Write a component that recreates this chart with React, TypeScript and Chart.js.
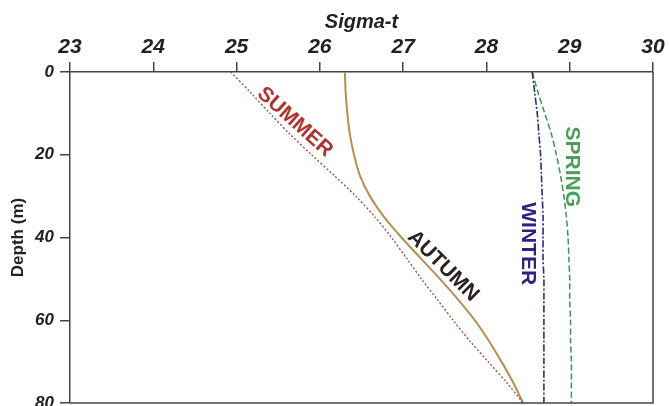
import React, { useEffect, useRef } from "react";
import { Chart, registerables } from "chart.js";

Chart.register(...registerables);

const depths = [0, 5, 10, 15, 20, 25, 30, 35, 40, 45, 50, 55, 60, 65, 70, 75, 80];
const summer = [24.93, 25.17, 25.4, 25.64, 25.9, 26.17, 26.43, 26.66, 26.86, 27.04, 27.22, 27.41, 27.6, 27.8, 28.02, 28.24, 28.44];
const autumn = [26.3, 26.31, 26.33, 26.36, 26.41, 26.48, 26.6, 26.77, 26.98, 27.21, 27.44, 27.66, 27.86, 28.03, 28.18, 28.32, 28.44];
const winter = [28.55, 28.58, 28.61, 28.63, 28.65, 28.66, 28.67, 28.68, 28.68, 28.68, 28.69, 28.69, 28.69, 28.69, 28.69, 28.69, 28.69];
const spring = [28.55, 28.62, 28.7, 28.78, 28.84, 28.89, 28.93, 28.96, 28.98, 28.99, 29.0, 29.0, 29.01, 29.01, 29.02, 29.02, 29.02];

const xTicks = [23, 24, 25, 26, 27, 28, 29, 30];
const yTicks = [0, 20, 40, 60, 80];

const labelTexts = ["SUMMER", "AUTUMN", "WINTER", "SPRING"];
const labelSigma = [25.7, 27.48, 28.5, 29.03];
const labelDepth = [12.1, 46.9, 41.5, 22.9];
const labelAngles = [42, 45, 90, 90];
const labelColors = ["#b3302f", "#2a2222", "#2e2284", "#47a058"];

const FONT = "'Liberation Sans', Arial, sans-serif";

const toPts = (xs: number[]) => xs.map((v, i) => ({ x: v, y: depths[i] }));

const boxPlugin = {
  id: "boxPlugin",
  afterDraw(chart: any) {
    const { ctx, chartArea } = chart;
    ctx.save();
    ctx.strokeStyle = "#444";
    ctx.lineWidth = 1.5;
    ctx.beginPath();
    ctx.moveTo(chartArea.right, chartArea.top);
    ctx.lineTo(chartArea.right, chartArea.bottom);
    ctx.lineTo(chartArea.left, chartArea.bottom);
    ctx.stroke();
    const xs = chart.scales.x;
    const ys = chart.scales.y;
    ctx.font = `bold 21px ${FONT}`;
    ctx.textAlign = "center";
    ctx.textBaseline = "middle";
    labelTexts.forEach((t, i) => {
      const px = xs.getPixelForValue(labelSigma[i]);
      const py = ys.getPixelForValue(labelDepth[i]);
      ctx.save();
      ctx.translate(px, py);
      ctx.rotate((labelAngles[i] * Math.PI) / 180);
      ctx.fillStyle = labelColors[i];
      ctx.fillText(t, 0, 0);
      ctx.restore();
    });
    ctx.restore();
  },
};

export default function App() {
  const ref = useRef<HTMLCanvasElement>(null);
  useEffect(() => {
    if (!ref.current) return;
    const chart = new Chart(ref.current, {
      type: "scatter",
      data: {
        datasets: [
          { label: "Summer", data: toPts(summer), borderColor: "#9a4a48", borderWidth: 1.3, borderDash: [2, 2], showLine: true, pointRadius: 0, tension: 0.3 },
          { label: "Autumn", data: toPts(autumn), borderColor: "#b8904c", borderWidth: 2, showLine: true, pointRadius: 0, tension: 0.3 },
          { label: "Winter", data: toPts(winter), borderColor: "#2e2a80", borderWidth: 1.6, borderDash: [7, 2, 2, 2], showLine: true, pointRadius: 0, tension: 0.3 },
          { label: "Spring", data: toPts(spring), borderColor: "#3f9450", borderWidth: 1.5, borderDash: [6, 3], showLine: true, pointRadius: 0, tension: 0.3 },
        ],
      },
      options: {
        animation: false,
        responsive: false,
        layout: { padding: { left: 0, right: 16, top: 0, bottom: 3 } },
        plugins: { legend: { display: false }, tooltip: { enabled: false } },
        scales: {
          x: {
            type: "linear",
            position: "top",
            min: 23,
            max: 30,
            afterBuildTicks: (s: any) => { s.ticks = xTicks.map((v) => ({ value: v })); },
            afterFit: (s: any) => { s.height = 72; s.paddingLeft = 0; s.paddingRight = 0; },
            ticks: { color: "#222", padding: 2, font: { family: FONT, size: 21, weight: "bold", style: "italic" } },
            grid: { drawOnChartArea: false, drawTicks: true, tickLength: 10, color: "#444", lineWidth: 1.5 },
            border: { display: true, color: "#444", width: 1.5 },
            title: { display: true, text: "Sigma-t", color: "#222", padding: { top: 10, bottom: 0 }, font: { family: FONT, size: 20, weight: "bold", style: "italic" } },
          },
          y: {
            type: "linear",
            position: "left",
            reverse: true,
            min: 0,
            max: 80,
            afterBuildTicks: (s: any) => { s.ticks = yTicks.map((v) => ({ value: v })); },
            afterFit: (s: any) => { s.width = 70; s.paddingTop = 0; s.paddingBottom = 0; },
            ticks: { color: "#222", padding: 6, font: { family: FONT, size: 17, weight: "bold", style: "italic" } },
            grid: { drawOnChartArea: false, drawTicks: true, tickLength: 10, color: "#444", lineWidth: 1.5 },
            border: { display: true, color: "#444", width: 1.5 },
            title: { display: true, text: "Depth (m)", color: "#222", padding: { top: 8, bottom: 0 }, font: { family: FONT, size: 17, weight: "bold" } },
          },
        },
      },
      plugins: [boxPlugin],
    } as any);
    return () => chart.destroy();
  }, []);
  return (
    <div style={{ position: "absolute", left: 0, top: 0, width: 669, height: 406, background: "#fff" }}>
      <canvas ref={ref} width={669} height={406} style={{ display: "block" }} />
    </div>
  );
}
